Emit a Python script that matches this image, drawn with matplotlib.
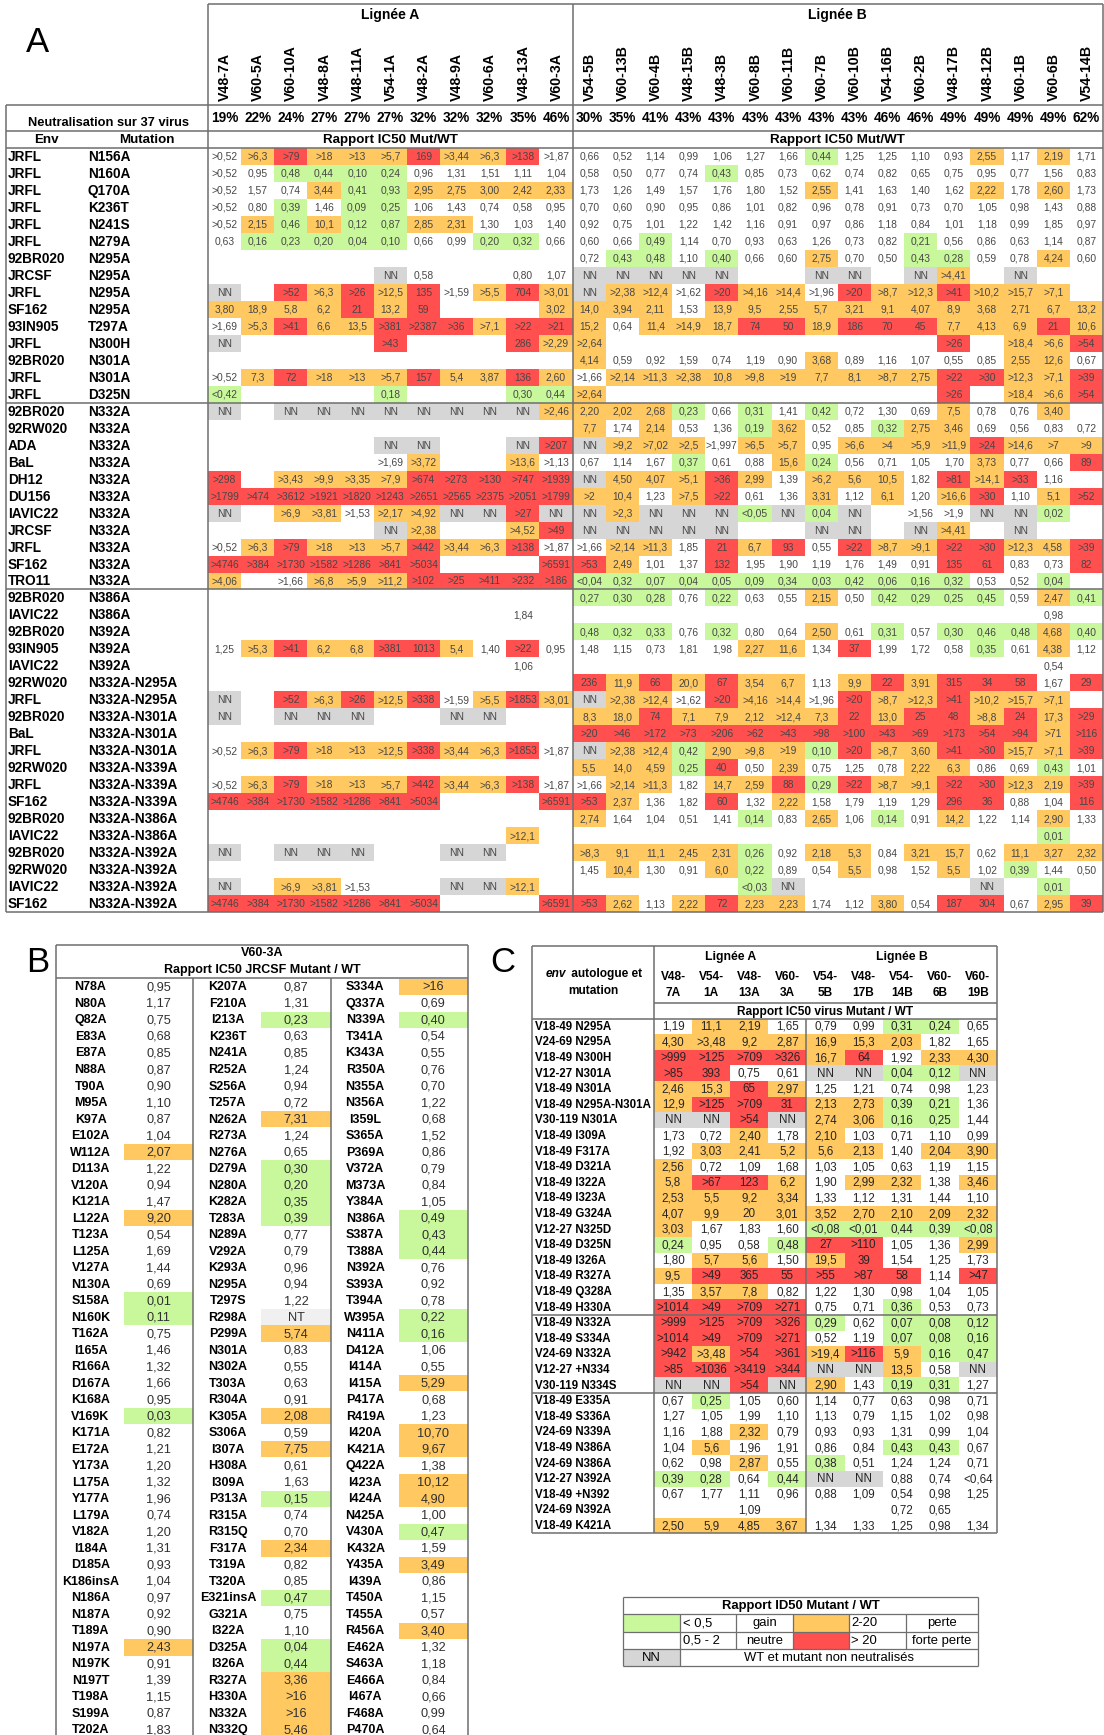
import matplotlib
matplotlib.use('Agg')
import matplotlib.pyplot as plt
from matplotlib.patches import Rectangle

plt.rcParams['font.family'] = ['Liberation Sans', 'DejaVu Sans']

GREEN = '#c9f79b'
ORANGE = '#ffc861'
RED = '#ff4f4f'
GRAY = '#d6d6d6'
LIGHTGRAY = '#f0f0f0'
LINE = '#6e6e6e'

# ---------------- Panel A data ----------------
lineage_a_abs = ['V48-7A', 'V60-5A', 'V60-10A', 'V48-8A', 'V48-11A', 'V54-1A', 'V48-2A',
                 'V48-9A', 'V60-6A', 'V48-13A', 'V60-3A']
lineage_a_pct = ['19%', '22%', '24%', '27%', '27%', '27%', '32%', '32%', '32%', '35%', '46%']
lineage_b_abs = ['V54-5B', 'V60-13B', 'V60-4B', 'V48-15B', 'V48-3B', 'V60-8B', 'V60-11B', 'V60-7B',
                 'V60-10B', 'V54-16B', 'V60-2B', 'V48-17B', 'V48-12B', 'V60-1B', 'V60-6B', 'V54-14B']
lineage_b_pct = ['30%', '35%', '41%', '43%', '43%', '43%', '43%', '43%', '43%', '46%', '46%',
                 '49%', '49%', '49%', '49%', '62%']

a_env = ['JRFL', 'JRFL', 'JRFL', 'JRFL', 'JRFL', 'JRFL', '92BR020', 'JRCSF', 'JRFL', 'SF162',
         '93IN905', 'JRFL', '92BR020', 'JRFL', 'JRFL',
         '92BR020', '92RW020', 'ADA', 'BaL', 'DH12', 'DU156', 'IAVIC22', 'JRCSF', 'JRFL', 'SF162', 'TRO11',
         '92BR020', 'IAVIC22', '92BR020', '93IN905', 'IAVIC22', '92RW020', 'JRFL', '92BR020', 'BaL',
         'JRFL', '92RW020', 'JRFL', 'SF162', '92BR020', 'IAVIC22', '92BR020', '92RW020', 'IAVIC22', 'SF162']
a_mutation = ['N156A', 'N160A', 'Q170A', 'K236T', 'N241S', 'N279A', 'N295A', 'N295A', 'N295A', 'N295A',
              'T297A', 'N300H', 'N301A', 'N301A', 'D325N',
              'N332A', 'N332A', 'N332A', 'N332A', 'N332A', 'N332A', 'N332A', 'N332A', 'N332A', 'N332A', 'N332A',
              'N386A', 'N386A', 'N392A', 'N392A', 'N392A', 'N332A-N295A', 'N332A-N295A', 'N332A-N301A',
              'N332A-N301A', 'N332A-N301A', 'N332A-N339A', 'N332A-N339A', 'N332A-N339A', 'N332A-N386A',
              'N332A-N386A', 'N332A-N392A', 'N332A-N392A', 'N332A-N392A', 'N332A-N392A']

# '.' = empty cell
a_values_lineage_a = [
    ">0,52 >6,3 >79 >18 >13 >5,7 169 >3,44 >6,3 >138 >1,87",
    ">0,52 0,95 0,48 0,44 0,10 0,24 0,96 1,31 1,51 1,11 1,04",
    ">0,52 1,57 0,74 3,44 0,41 0,93 2,95 2,75 3,00 2,42 2,33",
    ">0,52 0,80 0,39 1,46 0,09 0,25 1,06 1,43 0,74 0,58 0,95",
    ">0,52 2,15 0,46 10,1 0,12 0,87 2,85 2,31 1,30 1,03 1,40",
    "0,63 0,16 0,23 0,20 0,04 0,10 0,66 0,99 0,20 0,32 0,66",
    ". . . . . . . . . . .",
    ". . . . . NN 0,58 . . 0,80 1,07",
    "NN . >52 >6,3 >26 >12,5 135 >1,59 >5,5 704 >3,01",
    "3,80 18,9 5,8 6,2 21 13,2 59 . . . 3,02",
    ">1,69 >5,3 >41 6,6 13,5 >381 >2387 >36 >7,1 >22 >21",
    "NN . . . . >43 . . . 286 >2,29",
    ". . . . . . . . . . .",
    ">0,52 7,3 72 >18 >13 >5,7 157 5,4 3,87 136 2,60",
    "<0,42 . . . . 0,18 . . . 0,30 0,44",
    "NN . NN NN NN NN NN NN NN NN >2,46",
    ". . . . . . . . . . .",
    ". . . . . NN NN . . NN >207",
    ". . . . . >1,69 >3,72 . . >13,6 >1,13",
    ">298 . >3,43 >9,9 >3,35 >7,9 >674 >273 >130 >747 >1939",
    ">1799 >474 >3612 >1921 >1820 >1243 >2651 >2565 >2375 >2051 >1799",
    "NN . >6,9 >3,81 >1,53 >2,17 >4,92 NN NN >27 NN",
    ". . . . . NN >2,38 . . >4,52 >49",
    ">0,52 >6,3 >79 >18 >13 >5,7 >442 >3,44 >6,3 >138 >1,87",
    ">4746 >384 >1730 >1582 >1286 >841 >5034 . . . >6591",
    ">4,06 . >1,66 >6,8 >5,9 >11,2 >102 >25 >411 >232 >186",
    ". . . . . . . . . . .",
    ". . . . . . . . . 1,84 .",
    ". . . . . . . . . . .",
    "1,25 >5,3 >41 6,2 6,8 >381 1013 5,4 1,40 >22 0,95",
    ". . . . . . . . . 1,06 .",
    ". . . . . . . . . . .",
    "NN . >52 >6,3 >26 >12,5 >338 >1,59 >5,5 >1853 >3,01",
    "NN . NN NN NN . . NN NN . .",
    ". . . . . . . . . . .",
    ">0,52 >6,3 >79 >18 >13 >12,5 >338 >3,44 >6,3 >1853 >1,87",
    ". . . . . . . . . . .",
    ">0,52 >6,3 >79 >18 >13 >5,7 >442 >3,44 >6,3 >138 >1,87",
    ">4746 >384 >1730 >1582 >1286 >841 >5034 . . . >6591",
    ". . . . . . . . . . .",
    ". . . . . . . . . >12,1 .",
    "NN . NN NN NN . . NN NN . .",
    ". . . . . . . . . . .",
    "NN . >6,9 >3,81 >1,53 . . NN NN >12,1 .",
    ">4746 >384 >1730 >1582 >1286 >841 >5034 . . . >6591",
]

a_values_lineage_b = [
    "0,66 0,52 1,14 0,99 1,06 1,27 1,66 0,44 1,25 1,25 1,10 0,93 2,55 1,17 2,19 1,71",
    "0,58 0,50 0,77 0,74 0,43 0,85 0,73 0,62 0,74 0,82 0,65 0,75 0,95 0,77 1,56 0,83",
    "1,73 1,26 1,49 1,57 1,76 1,80 1,52 2,55 1,41 1,63 1,40 1,62 2,22 1,78 2,60 1,73",
    "0,70 0,60 0,90 0,95 0,86 1,01 0,82 0,96 0,78 0,91 0,73 0,70 1,05 0,98 1,43 0,88",
    "0,92 0,75 1,01 1,22 1,42 1,16 0,91 0,97 0,86 1,18 0,84 1,01 1,18 0,99 1,85 0,97",
    "0,60 0,66 0,49 1,14 0,70 0,93 0,63 1,26 0,73 0,82 0,21 0,56 0,86 0,63 1,14 0,87",
    "0,72 0,43 0,48 1,10 0,40 0,66 0,60 2,75 0,70 0,50 0,43 0,28 0,59 0,78 4,24 0,60",
    "NN NN NN NN NN . . NN NN . NN >4,41 . NN . .",
    "NN >2,38 >12,4 >1,62 >20 >4,16 >14,4 >1,96 >20 >8,7 >12,3 >41 >10,2 >15,7 >7,1 .",
    "14,0 3,94 2,11 1,53 13,9 9,5 2,55 5,7 3,21 9,1 4,07 8,9 3,68 2,71 6,7 13,2",
    "15,2 0,64 11,4 >14,9 18,7 74 50 18,9 186 70 45 7,7 4,13 6,9 21 10,6",
    ">2,64 . . . . . . . . . . >26 . >18,4 >6,6 >54",
    "4,14 0,59 0,92 1,59 0,74 1,19 0,90 3,68 0,89 1,16 1,07 0,55 0,85 2,55 12,6 0,67",
    ">1,66 >2,14 >11,3 >2,38 10,8 >9,8 >19 7,7 8,1 >8,7 2,75 >22 >30 >12,3 >7,1 >39",
    ">2,64 . . . . . . . . . . >26 . >18,4 >6,6 >54",
    "2,20 2,02 2,68 0,23 0,66 0,31 1,41 0,42 0,72 1,30 0,69 7,5 0,78 0,76 3,40 .",
    "7,7 1,74 2,14 0,53 1,36 0,19 3,62 0,52 0,85 0,32 2,75 3,46 0,69 0,56 0,83 0,72",
    "NN >9,2 >7,02 >2,5 >1,997 >6,5 >5,7 0,95 >6,6 >4 >5,9 >11,9 >24 >14,6 >7 >9",
    "0,67 1,14 1,67 0,37 0,61 0,88 15,6 0,24 0,56 0,71 1,05 1,70 3,73 0,77 0,66 89",
    "NN 4,50 4,07 >5,1 >36 2,99 1,39 >6,2 5,6 10,5 1,82 >81 >14,1 >33 1,16 .",
    ">2 10,4 1,23 >7,5 >22 0,61 1,36 3,31 1,12 6,1 1,20 >16,6 >30 1,10 5,1 >52",
    "NN >2,3 NN NN NN <0,05 NN 0,04 NN . >1,56 >1,9 NN NN 0,02 .",
    "NN NN NN NN NN . . NN NN . NN >4,41 . NN . .",
    ">1,66 >2,14 >11,3 1,85 21 6,7 93 0,55 >22 >8,7 >9,1 >22 >30 >12,3 4,58 >39",
    ">53 2,49 1,01 1,37 132 1,95 1,90 1,19 1,76 1,49 0,91 135 61 0,83 0,73 82",
    "<0,04 0,32 0,07 0,04 0,05 0,09 0,34 0,03 0,42 0,06 0,16 0,32 0,53 0,52 0,04 .",
    "0,27 0,30 0,28 0,76 0,22 0,63 0,55 2,15 0,50 0,42 0,29 0,25 0,45 0,59 2,47 0,41",
    ". . . . . . . . . . . . . . 0,98 .",
    "0,48 0,32 0,33 0,76 0,32 0,80 0,64 2,50 0,61 0,31 0,57 0,30 0,46 0,48 4,68 0,40",
    "1,48 1,15 0,73 1,81 1,98 2,27 11,6 1,34 37 1,99 1,72 0,58 0,35 0,61 4,38 1,12",
    ". . . . . . . . . . . . . . 0,54 .",
    "236 11,9 66 20,0 67 3,54 6,7 1,13 9,9 22 3,91 315 34 58 1,67 29",
    "NN >2,38 >12,4 >1,62 >20 >4,16 >14,4 >1,96 >20 >8,7 >12,3 >41 >10,2 >15,7 >7,1 .",
    "8,3 18,0 74 7,1 7,9 2,12 >12,4 7,3 22 13,0 25 48 >8,8 24 17,3 >29",
    ">20 >46 >172 >73 >206 >62 >43 >98 >100 >43 >69 >173 >54 >94 >71 >116",
    "NN >2,38 >12,4 0,42 2,90 >9,8 >19 0,10 >20 >8,7 3,60 >41 >30 >15,7 >7,1 >39",
    "5,5 14,0 4,59 0,25 40 0,50 2,39 0,75 1,25 0,78 2,22 6,3 0,86 0,69 0,43 1,01",
    ">1,66 >2,14 >11,3 1,82 14,7 2,59 88 0,29 >22 >8,7 >9,1 >22 >30 >12,3 2,19 >39",
    ">53 2,37 1,36 1,82 60 1,32 2,22 1,58 1,79 1,19 1,29 296 36 0,88 1,04 116",
    "2,74 1,64 1,04 0,51 1,41 0,14 0,83 2,65 1,06 0,14 0,91 14,2 1,22 1,14 2,90 1,33",
    ". . . . . . . . . . . . . . 0,01 .",
    ">8,3 9,1 11,1 2,45 2,31 0,26 0,92 2,18 5,3 0,84 3,21 15,7 0,62 11,1 3,27 2,32",
    "1,45 10,4 1,30 0,91 6,0 0,22 0,89 0,54 5,5 0,98 1,52 5,5 1,02 0,39 1,44 0,50",
    ". . . . . <0,03 NN . . . . . NN . 0,01 .",
    ">53 2,62 1,13 2,22 72 2,23 2,23 1,74 1,12 3,80 0,54 187 304 0,67 2,95 39",
]
# cells whose shading in the original differs from the value-based rule: (row, column) -> class
a_color_override = {(2, 5): 'green', (4, 5): 'green', (34, 25): 'orange'}
a_group_breaks = [15, 26]

# ---------------- Panel B data ----------------
b_title = 'V60-3A'
b_subtitle = 'Rapport IC50 JRCSF Mutant / WT'
b_mut_1 = ['N78A', 'N80A', 'Q82A', 'E83A', 'E87A', 'N88A', 'T90A', 'M95A', 'K97A', 'E102A', 'W112A',
           'D113A', 'V120A', 'K121A', 'L122A', 'T123A', 'L125A', 'V127A', 'N130A', 'S158A', 'N160K',
           'T162A', 'I165A', 'R166A', 'D167A', 'K168A', 'V169K', 'K171A', 'E172A', 'Y173A', 'L175A',
           'Y177A', 'L179A', 'V182A', 'I184A', 'D185A', 'K186insA', 'N186A', 'N187A', 'T189A', 'N197A',
           'N197K', 'N197T', 'T198A', 'S199A', 'T202A']
b_val_1 = ['0,95', '1,17', '0,75', '0,68', '0,85', '0,87', '0,90', '1,10', '0,87', '1,04', '2,07',
           '1,22', '0,94', '1,47', '9,20', '0,54', '1,69', '1,44', '0,69', '0,01', '0,11',
           '0,75', '1,46', '1,32', '1,66', '0,95', '0,03', '0,82', '1,21', '1,20', '1,32',
           '1,96', '0,74', '1,20', '1,31', '0,93', '1,04', '0,97', '0,92', '0,90', '2,43',
           '0,91', '1,39', '1,15', '0,87', '1,83']
b_mut_2 = ['K207A', 'F210A', 'I213A', 'K236T', 'N241A', 'R252A', 'S256A', 'T257A', 'N262A', 'R273A',
           'N276A', 'D279A', 'N280A', 'K282A', 'T283A', 'N289A', 'V292A', 'K293A', 'N295A', 'T297S',
           'R298A', 'P299A', 'N301A', 'N302A', 'T303A', 'R304A', 'K305A', 'S306A', 'I307A', 'H308A',
           'I309A', 'P313A', 'R315A', 'R315Q', 'F317A', 'T319A', 'T320A', 'E321insA', 'G321A', 'I322A',
           'D325A', 'I326A', 'R327A', 'H330A', 'N332A', 'N332Q']
b_val_2 = ['0,87', '1,31', '0,23', '0,63', '0,85', '1,24', '0,94', '0,72', '7,31', '1,24',
           '0,65', '0,30', '0,20', '0,35', '0,39', '0,77', '0,79', '0,96', '0,94', '1,22',
           'NT', '5,74', '0,83', '0,55', '0,63', '0,91', '2,08', '0,59', '7,75', '0,61',
           '1,63', '0,15', '0,74', '0,70', '2,34', '0,82', '0,85', '0,47', '0,75', '1,10',
           '0,04', '0,44', '3,36', '>16', '>16', '5,46']
b_mut_3 = ['S334A', 'Q337A', 'N339A', 'T341A', 'K343A', 'R350A', 'N355A', 'N356A', 'I359L', 'S365A',
           'P369A', 'V372A', 'M373A', 'Y384A', 'N386A', 'S387A', 'T388A', 'N392A', 'S393A', 'T394A',
           'W395A', 'N411A', 'D412A', 'I414A', 'I415A', 'P417A', 'R419A', 'I420A', 'K421A', 'Q422A',
           'I423A', 'I424A', 'N425A', 'V430A', 'K432A', 'Y435A', 'I439A', 'T450A', 'T455A', 'R456A',
           'E462A', 'S463A', 'E466A', 'I467A', 'F468A', 'P470A']
b_val_3 = ['>16', '0,69', '0,40', '0,54', '0,55', '0,76', '0,70', '1,22', '0,68', '1,52',
           '0,86', '0,79', '0,84', '1,05', '0,49', '0,43', '0,44', '0,76', '0,92', '0,78',
           '0,22', '0,16', '1,06', '0,55', '5,29', '0,68', '1,23', '10,70', '9,67', '1,38',
           '10,12', '4,90', '1,00', '0,47', '1,59', '3,49', '0,86', '1,15', '0,57', '3,40',
           '1,32', '1,18', '0,84', '0,66', '0,99', '0,64']

# ---------------- Panel C data ----------------
c_lineage_a = [('V48-', '7A'), ('V54-', '1A'), ('V48-', '13A'), ('V60-', '3A')]
c_lineage_b = [('V54-', '5B'), ('V48-', '17B'), ('V54-', '14B'), ('V60-', '6B'), ('V60-', '19B')]
c_rows = ['V18-49 N295A', 'V24-69 N295A', 'V18-49 N300H', 'V12-27 N301A', 'V18-49 N301A',
          'V18-49 N295A-N301A', 'V30-119 N301A', 'V18-49 I309A', 'V18-49 F317A', 'V18-49 D321A',
          'V18-49 I322A', 'V18-49 I323A', 'V18-49 G324A', 'V12-27 N325D', 'V18-49 D325N',
          'V18-49 I326A', 'V18-49 R327A', 'V18-49 Q328A', 'V18-49 H330A',
          'V18-49 N332A', 'V18-49 S334A', 'V24-69 N332A', 'V12-27 +N334', 'V30-119 N334S',
          'V18-49 E335A', 'V18-49 S336A', 'V24-69 N339A', 'V18-49 N386A', 'V24-69 N386A',
          'V12-27 N392A', 'V18-49 +N392', 'V24-69 N392A', 'V18-49 K421A']
c_values = [
    "1,19 11,1 2,19 1,65 0,79 0,99 0,31 0,24 0,65",
    "4,30 >3,48 9,2 2,87 16,9 15,3 2,03 1,82 1,65",
    ">999 >125 >709 >326 16,7 64 1,92 2,33 4,30",
    ">85 393 0,75 0,61 NN NN 0,04 0,12 NN",
    "2,46 15,3 65 2,97 1,25 1,21 0,74 0,98 1,23",
    "12,9 >125 >709 31 2,13 2,73 0,39 0,21 1,36",
    "NN NN >54 NN 2,74 3,06 0,16 0,25 1,44",
    "1,73 0,72 2,40 1,78 2,10 1,03 0,71 1,10 0,99",
    "1,92 3,03 2,41 5,2 5,6 2,13 1,40 2,04 3,90",
    "2,56 0,72 1,09 1,68 1,03 1,05 0,63 1,19 1,15",
    "5,8 >67 123 6,2 1,90 2,99 2,32 1,38 3,46",
    "2,53 5,5 9,2 3,34 1,33 1,12 1,31 1,44 1,10",
    "4,07 9,9 20 3,01 3,52 2,70 2,10 2,09 2,32",
    "3,03 1,67 1,83 1,60 <0,08 <0,01 0,44 0,39 <0,08",
    "0,24 0,95 0,58 0,48 27 >110 1,05 1,36 2,99",
    "1,80 5,7 5,6 1,50 19,5 39 1,54 1,25 1,73",
    "9,5 >49 365 55 >55 >87 58 1,14 >47",
    "1,35 3,57 7,8 0,82 1,22 1,30 0,98 1,04 1,05",
    ">1014 >49 >709 >271 0,75 0,71 0,36 0,53 0,73",
    ">999 >125 >709 >326 0,29 0,62 0,07 0,08 0,12",
    ">1014 >49 >709 >271 0,52 1,19 0,07 0,08 0,16",
    ">942 >3,48 >54 >361 >19,4 >116 5,9 0,16 0,47",
    ">85 >1036 >3419 >344 NN NN 13,5 0,58 NN",
    "NN NN >54 NN 2,90 1,43 0,19 0,31 1,27",
    "0,67 0,25 1,05 0,60 1,14 0,77 0,63 0,98 0,71",
    "1,27 1,05 1,99 1,10 1,13 0,79 1,15 1,02 0,98",
    "1,16 1,88 2,32 0,79 0,93 0,93 1,31 0,99 1,04",
    "1,04 5,6 1,96 1,91 0,86 0,84 0,43 0,43 0,67",
    "0,62 0,98 2,87 0,55 0,38 0,51 1,24 1,24 0,71",
    "0,39 0,28 0,64 0,44 NN NN 0,88 0,74 <0,64",
    "0,67 1,77 1,11 0,96 0,88 1,09 0,54 0,98 1,25",
    ". . 1,09 . . . 0,72 0,65 .",
    "2,50 5,9 4,85 3,67 1,34 1,33 1,25 0,98 1,34",
]
c_group_breaks = [19, 24]

# ---------------- Legend ----------------
legend_title = 'Rapport ID50 Mutant / WT'
legend_rows = [('< 0,5', 'gain', '2-20', 'perte'), ('0,5 - 2', 'neutre', '> 20', 'forte perte')]
legend_nn = ('NN', 'WT et mutant non neutralisés')

CLASS_COLOR = {'green': GREEN, 'white': None, 'orange': ORANGE, 'red': RED, 'nn': GRAY, 'nt': LIGHTGRAY}


def classify(tok):
    if tok in ('', '.'):
        return None
    if tok == 'NN':
        return 'nn'
    if tok == 'NT':
        return 'nt'
    prefix = tok[0] if tok[0] in '<>' else ''
    v = float(tok.lstrip('<>').replace(',', '.'))
    if v < 0.5:
        return 'green'
    if v < 2:
        return 'white'
    if v < 20 or (v == 20 and prefix != '>'):
        return 'orange'
    return 'red'


fig = plt.figure(figsize=(11.04, 17.35), dpi=100)
ax = fig.add_axes([0, 0, 1, 1])
ax.set_xlim(0, 1104)
ax.set_ylim(1735, 0)
ax.axis('off')


def hline(y, x0, x1, lw=1.1, color=LINE):
    ax.plot([x0, x1], [y, y], color=color, lw=lw, solid_capstyle='butt')


def vline(x, y0, y1, lw=1.1, color=LINE):
    ax.plot([x, x], [y0, y1], color=color, lw=lw, solid_capstyle='butt')


def cell(x, y, w, h, cls):
    c = CLASS_COLOR.get(cls) if cls else None
    if c:
        ax.add_patch(Rectangle((x, y), w, h, facecolor=c, edgecolor='none', zorder=1))


# ================= Panel A =================
A_left, A_x0, A_top = 6, 208, 4
A_colw = (1103 - 208) / 27.0
A_row0, A_rowh = 148, 16.98
nA = len(a_env)
A_bottom = A_row0 + nA * A_rowh
A_sep = A_x0 + len(lineage_a_abs) * A_colw
A_right = A_x0 + 27 * A_colw

ax.text(37, 42, 'A', fontsize=25, ha='center', va='center')
all_abs = lineage_a_abs + lineage_b_abs
all_pct = lineage_a_pct + lineage_b_pct
ax.text((A_x0 + A_sep) / 2, 15, 'Lignée A', fontsize=10, fontweight='bold', ha='center', va='center')
ax.text((A_sep + A_right) / 2, 15, 'Lignée B', fontsize=10, fontweight='bold', ha='center', va='center')
for j, (name, pct) in enumerate(zip(all_abs, all_pct)):
    xc = A_x0 + (j + 0.5) * A_colw
    ax.text(xc + 0.5, 101, name, rotation=90, fontsize=10.2, fontweight='bold', ha='center', va='bottom')
    ax.text(xc, 118.5, pct, fontsize=9.8, fontweight='bold', ha='center', va='center')
ax.text(108, 123, 'Neutralisation sur 37 virus', fontsize=9.3, fontweight='bold', ha='center', va='center')
ax.text(46, 140, 'Env', fontsize=9.6, fontweight='bold', ha='center', va='center')
ax.text(147, 140, 'Mutation', fontsize=9.6, fontweight='bold', ha='center', va='center')
ax.text((A_x0 + A_sep) / 2, 140, 'Rapport IC50 Mut/WT', fontsize=9.6, fontweight='bold', ha='center', va='center')
ax.text((A_sep + A_right) / 2, 140, 'Rapport IC50 Mut/WT', fontsize=9.6, fontweight='bold', ha='center', va='center')

for i in range(nA):
    y = A_row0 + i * A_rowh
    yc = y + A_rowh / 2
    ax.text(8, yc + 0.5, a_env[i], fontsize=9.8, fontweight='bold', ha='left', va='center')
    ax.text(88, yc + 0.5, a_mutation[i], fontsize=9.8, fontweight='bold', ha='left', va='center')
    toks = a_values_lineage_a[i].split() + a_values_lineage_b[i].split()
    for j, tok in enumerate(toks):
        x = A_x0 + j * A_colw
        cls = a_color_override.get((i, j), classify(tok))
        cell(x, y, A_colw, A_rowh, cls)
        if tok != '.':
            ax.text(x + A_colw / 2, yc + 0.5, tok, fontsize=7.4, color='#474747', ha='center', va='center',
                    zorder=3)

# Panel A lines
hline(A_top, A_x0, A_right)
for yy in (105, 131, A_row0, A_bottom):
    hline(yy, A_left, A_right)
for b in a_group_breaks:
    hline(A_row0 + b * A_rowh, A_left, A_right)
vline(A_left, 105, A_bottom)
vline(A_x0, A_top, A_bottom)
vline(A_sep, A_top, A_bottom)
vline(A_right, A_top, A_bottom)

# ================= Panel B =================
ax.text(38, 962, 'B', fontsize=25, ha='center', va='center')
B_left, B_right, B_top, B_head = 56, 468, 945, 977.5
B_row0, B_rowh = 978.7, 16.51
B_groups = [(b_mut_1, b_val_1), (b_mut_2, b_val_2), (b_mut_3, b_val_3)]
B_gw = (B_right - B_left) / 3.0
ax.text((B_left + B_right) / 2, 953, b_title, fontsize=9, fontweight='bold', ha='center', va='center')
ax.text((B_left + B_right) / 2, 969.5, b_subtitle, fontsize=9, fontweight='bold', ha='center', va='center')
for g, (muts, vals) in enumerate(B_groups):
    gx = B_left + g * B_gw
    for i, (m, v) in enumerate(zip(muts, vals)):
        y = B_row0 + i * B_rowh
        yc = y + B_rowh / 2
        cell(gx + 68, y, B_gw - 68, B_rowh, classify(v))
        ax.text(gx + 34.5, yc + 0.5, m, fontsize=9, fontweight='bold', ha='center', va='center')
        ax.text(gx + 68 + (B_gw - 68) / 2, yc + 0.5, v, fontsize=9.2, color='#303030', ha='center',
                va='center', zorder=3)
B_bottom = 1745
hline(B_top, B_left, B_right)
hline(B_head, B_left, B_right)
vline(B_left, B_top, B_bottom)
vline(B_right, B_top, B_bottom)
vline(B_left + B_gw, B_head, B_bottom)
vline(B_left + 2 * B_gw, B_head, B_bottom)

# ================= Panel C =================
ax.text(503, 962, 'C', fontsize=25, ha='center', va='center')
C_left, C_x0, C_right, C_top = 532, 654, 997, 946
C_colw = (C_right - C_x0) / 9.0
C_sep = C_x0 + 4 * C_colw
C_row0, C_rowh = 1018.5, 15.6
nC = len(c_rows)
C_bottom = C_row0 + nC * C_rowh

# "env autologue et": italic word followed by regular words, centred as one line
renderer = fig.canvas.get_renderer()
t_env = ax.text(0, 974, 'env', fontsize=8.6, fontweight='bold', style='italic', ha='left', va='center')
t_rest = ax.text(0, 974, ' autologue et', fontsize=8.6, fontweight='bold', ha='left', va='center')
inv = ax.transData.inverted()
def _w(t):
    bb = t.get_window_extent(renderer=renderer)
    return inv.transform((bb.x1, 0))[0] - inv.transform((bb.x0, 0))[0]
w_env, w_rest = _w(t_env), _w(t_rest)
x_start = (C_left + C_x0) / 2 - (w_env + w_rest) / 2
t_env.set_x(x_start)
t_rest.set_x(x_start + w_env + 1.5)
ax.text((C_left + C_x0) / 2, 991, 'mutation', fontsize=8.6, fontweight='bold', ha='center', va='center')
ax.text((C_x0 + C_sep) / 2, 957, 'Lignée A', fontsize=8.8, fontweight='bold', ha='center', va='center')
ax.text((C_sep + C_right) / 2, 957, 'Lignée B', fontsize=8.8, fontweight='bold', ha='center', va='center')
for j, (l1, l2) in enumerate(c_lineage_a + c_lineage_b):
    xc = C_x0 + (j + 0.5) * C_colw
    ax.text(xc, 977, l1, fontsize=8.6, fontweight='bold', ha='center', va='center')
    ax.text(xc, 992.5, l2, fontsize=8.6, fontweight='bold', ha='center', va='center')
ax.text((C_x0 + C_right) / 2, 1011.5, 'Rapport IC50 virus Mutant / WT', fontsize=8.6, fontweight='bold',
        ha='center', va='center')
for i in range(nC):
    y = C_row0 + i * C_rowh
    yc = y + C_rowh / 2
    ax.text(535, yc + 0.5, c_rows[i], fontsize=8.3, fontweight='bold', ha='left', va='center')
    for j, tok in enumerate(c_values[i].split()):
        x = C_x0 + j * C_colw
        cell(x, y, C_colw, C_rowh, classify(tok))
        if tok != '.':
            ax.text(x + C_colw / 2, yc + 0.5, tok, fontsize=8.4, color='#262626', ha='center', va='center',
                    zorder=3)
hline(C_top, C_left, C_right)
hline(1003, C_x0, C_right)
hline(C_row0, C_left, C_right)
for b in c_group_breaks:
    hline(C_row0 + b * C_rowh, C_left, C_right)
hline(C_bottom, C_left, C_right)
vline(C_left, C_top, C_bottom)
vline(C_x0, C_top, C_bottom)
vline(C_sep, C_row0, C_bottom)
vline(C_right, C_top, C_bottom)

# ================= Legend =================
L_x = [623, 680, 736, 793, 849, 906, 978]
L_y = [1597, 1614, 1631.5, 1649, 1666]
ax.text((L_x[0] + L_x[-1]) / 2, 1605.5, legend_title, fontsize=9.4, fontweight='bold', ha='center', va='center')
swatches = [('green', 'orange'), ('white', 'red')]
for r, (txt, (s1, s2)) in enumerate(zip(legend_rows, swatches)):
    y = L_y[r + 1]
    yc = (L_y[r + 1] + L_y[r + 2]) / 2
    cell(L_x[0], y, L_x[1] - L_x[0], L_y[r + 2] - y, s1)
    cell(L_x[3], y, L_x[4] - L_x[3], L_y[r + 2] - y, s2)
    ax.text(L_x[1] + 3, yc + 0.5, txt[0], fontsize=9.4, ha='left', va='center')
    ax.text((L_x[2] + L_x[3]) / 2, yc + 0.5, txt[1], fontsize=9.4, ha='center', va='center')
    ax.text(L_x[4] + 2, yc + 0.5, txt[2], fontsize=9.4, ha='left', va='center')
    ax.text((L_x[5] + L_x[6]) / 2, yc + 0.5, txt[3], fontsize=9.4, ha='center', va='center')
cell(L_x[0], L_y[3], L_x[1] - L_x[0], L_y[4] - L_y[3], 'nn')
ax.text((L_x[0] + L_x[1]) / 2, (L_y[3] + L_y[4]) / 2 + 0.5, legend_nn[0], fontsize=9.4, ha='center', va='center')
ax.text((L_x[1] + L_x[6]) / 2, (L_y[3] + L_y[4]) / 2 + 0.5, legend_nn[1], fontsize=9.4, ha='center', va='center')
for yy in L_y:
    hline(yy, L_x[0], L_x[-1], lw=0.9)
vline(L_x[0], L_y[0], L_y[-1], lw=0.9)
vline(L_x[-1], L_y[0], L_y[-1], lw=0.9)
vline(L_x[1], L_y[1], L_y[-1], lw=0.9)
for xx in L_x[2:6]:
    vline(xx, L_y[1], L_y[3], lw=0.9)

fig.savefig('out.png', dpi=100)
